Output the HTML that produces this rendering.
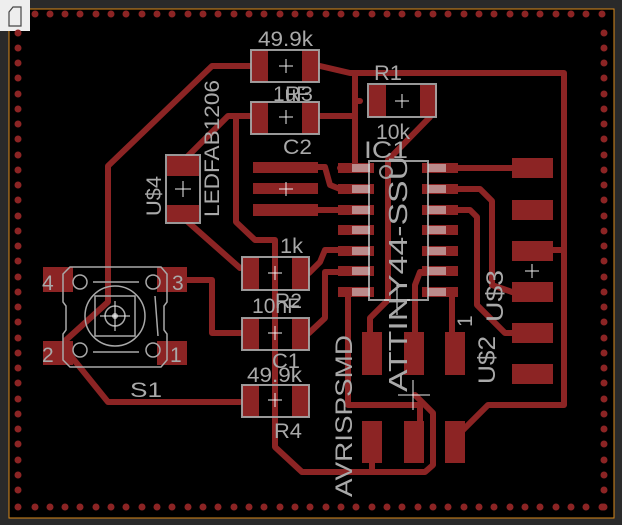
<!DOCTYPE html>
<html><head><meta charset="utf-8"><style>
html,body{margin:0;padding:0;background:#2a2a2a;}
svg{display:block}
text{font-family:"Liberation Sans",sans-serif;fill:#a9a9a9}
</style></head><body>
<svg width="622" height="525" viewBox="0 0 622 525" xmlns="http://www.w3.org/2000/svg">
<rect x="0" y="0" width="622" height="525" fill="#2a2a2a"/>
<rect x="9" y="9" width="605" height="509" fill="#000" stroke="#d98a1c" stroke-width="1"/>
<rect x="0" y="0" width="30" height="31" fill="#eee"/>
<path d="M9 26 V12 L13 7 H21 V26 Z" fill="none" stroke="#444" stroke-width="1.2"/>
<g fill="#8c2424" id="dots">
<g id="toprow">
<circle cx="35" cy="14" r="3.5"/><circle cx="50" cy="14" r="3.5"/><circle cx="65" cy="14" r="3.5"/><circle cx="80" cy="14" r="3.5"/><circle cx="96" cy="14" r="3.5"/><circle cx="111" cy="14" r="3.5"/><circle cx="126" cy="14" r="3.5"/><circle cx="142" cy="14" r="3.5"/><circle cx="157" cy="14" r="3.5"/><circle cx="172" cy="14" r="3.5"/><circle cx="188" cy="14" r="3.5"/><circle cx="203" cy="14" r="3.5"/><circle cx="218" cy="14" r="3.5"/><circle cx="234" cy="14" r="3.5"/><circle cx="249" cy="14" r="3.5"/><circle cx="264" cy="14" r="3.5"/><circle cx="280" cy="14" r="3.5"/><circle cx="295" cy="14" r="3.5"/><circle cx="310" cy="14" r="3.5"/><circle cx="326" cy="14" r="3.5"/><circle cx="341" cy="14" r="3.5"/><circle cx="356" cy="14" r="3.5"/><circle cx="372" cy="14" r="3.5"/><circle cx="387" cy="14" r="3.5"/><circle cx="402" cy="14" r="3.5"/><circle cx="418" cy="14" r="3.5"/><circle cx="433" cy="14" r="3.5"/><circle cx="448" cy="14" r="3.5"/><circle cx="464" cy="14" r="3.5"/><circle cx="479" cy="14" r="3.5"/><circle cx="494" cy="14" r="3.5"/><circle cx="510" cy="14" r="3.5"/><circle cx="525" cy="14" r="3.5"/><circle cx="540" cy="14" r="3.5"/><circle cx="556" cy="14" r="3.5"/><circle cx="571" cy="14" r="3.5"/><circle cx="586" cy="14" r="3.5"/><circle cx="602" cy="14" r="3.5"/>
</g>
<use href="#toprow" y="493"/>
<g id="leftcol">
<circle cx="18" cy="33" r="3.5"/><circle cx="18" cy="48" r="3.5"/><circle cx="18" cy="63" r="3.5"/><circle cx="18" cy="78" r="3.5"/><circle cx="18" cy="94" r="3.5"/><circle cx="18" cy="109" r="3.5"/><circle cx="18" cy="124" r="3.5"/><circle cx="18" cy="139" r="3.5"/><circle cx="18" cy="155" r="3.5"/><circle cx="18" cy="170" r="3.5"/><circle cx="18" cy="185" r="3.5"/><circle cx="18" cy="200" r="3.5"/><circle cx="18" cy="216" r="3.5"/><circle cx="18" cy="231" r="3.5"/><circle cx="18" cy="246" r="3.5"/><circle cx="18" cy="261" r="3.5"/><circle cx="18" cy="277" r="3.5"/><circle cx="18" cy="292" r="3.5"/><circle cx="18" cy="307" r="3.5"/><circle cx="18" cy="322" r="3.5"/><circle cx="18" cy="338" r="3.5"/><circle cx="18" cy="353" r="3.5"/><circle cx="18" cy="368" r="3.5"/><circle cx="18" cy="383" r="3.5"/><circle cx="18" cy="399" r="3.5"/><circle cx="18" cy="414" r="3.5"/><circle cx="18" cy="429" r="3.5"/><circle cx="18" cy="444" r="3.5"/><circle cx="18" cy="460" r="3.5"/><circle cx="18" cy="475" r="3.5"/><circle cx="18" cy="490" r="3.5"/><circle cx="18" cy="507" r="3.5"/>
</g>
<use href="#leftcol" x="586"/>
</g>
<g fill="none" stroke="#8c2424" stroke-width="6" stroke-linejoin="round" stroke-linecap="round">
<path d="M250 66 H212 L108 166 V302 L66 340"/>
<path d="M250 116 H228 L188 156"/>
<path d="M236 116 V222 L255 240 H275 V447 L302 472 H425 L433 465 V413 L415 395"/>
<path d="M188 222 L240 268"/>
<path d="M320 66 L350 73 H564 V405 H488 L463 430"/>
<path d="M355 73 V168 H340"/>
<path d="M320 116 H355"/>
<path d="M360 101 H355"/>
<path d="M430 117 L388 160 V300 L370 318 V340"/>
<path d="M300 167 H325 L330 185 L340 189"/>
<path d="M318 210 H340"/>
<path d="M309 273 L320 262 L325 250 H340"/>
<path d="M309 333 L325 318 V272 H340"/>
<path d="M187 280 H212 V333 H241"/>
<path d="M66 350 L108 402 H240"/>
<path d="M348 292 V405 H420 V421"/>
<path d="M458 168 H512"/>
<path d="M458 189 H480 L492 201 V285 L512 292"/>
<path d="M458 210 H470 L477 217 V305 L505 333 H512"/>
<path d="M445 272 H420 L415 285 V340"/>
<path d="M452 292 V340"/>
<path d="M372 455 V472"/>
<path d="M553 250 H564"/>
</g>
<g fill="#8c2424">
<rect x="251" y="50" width="17" height="32"/><rect x="302" y="50" width="17" height="32"/>
<rect x="251" y="102" width="17" height="32"/><rect x="302" y="102" width="17" height="32"/>
<rect x="369" y="85" width="17" height="32"/><rect x="420" y="85" width="17" height="32"/>
<rect x="242" y="257" width="17" height="33"/><rect x="292" y="257" width="17" height="33"/>
<rect x="242" y="318" width="17" height="32"/><rect x="292" y="318" width="17" height="32"/>
<rect x="242" y="385" width="17" height="32"/><rect x="292" y="385" width="17" height="32"/>
<rect x="167" y="156" width="32" height="20"/><rect x="167" y="205" width="32" height="17"/>
<rect x="253" y="162" width="65" height="11"/><rect x="253" y="183" width="65" height="11"/><rect x="253" y="204" width="65" height="12"/>
<g id="icl"><rect x="338" y="163" width="36" height="10"/><rect x="338" y="184" width="36" height="10"/><rect x="338" y="205" width="36" height="10"/><rect x="338" y="225" width="36" height="10"/><rect x="338" y="246" width="36" height="10"/><rect x="338" y="266" width="36" height="10"/><rect x="338" y="287" width="36" height="10"/></g>
<use href="#icl" x="84"/>
<rect x="512" y="158" width="41" height="20"/><rect x="512" y="200" width="41" height="20"/><rect x="512" y="241" width="41" height="20"/><rect x="512" y="282" width="41" height="20"/><rect x="512" y="323" width="41" height="20"/><rect x="512" y="364" width="41" height="20"/>
<rect x="362" y="332" width="20" height="43"/><rect x="404" y="332" width="20" height="43"/><rect x="445" y="332" width="20" height="43"/>
<rect x="362" y="421" width="20" height="42"/><rect x="404" y="421" width="20" height="42"/><rect x="445" y="421" width="20" height="42"/>
<rect x="43" y="267" width="30" height="25"/><rect x="157" y="267" width="30" height="25"/>
<rect x="43" y="341" width="30" height="24"/><rect x="157" y="341" width="30" height="24"/>
</g>
<g fill="none" stroke="#a9a9a9" stroke-width="2" opacity="0.9">
<rect x="251" y="50" width="68" height="32"/>
<rect x="251" y="102" width="68" height="32"/>
<rect x="368" y="84" width="68" height="33"/>
<rect x="242" y="257" width="67" height="33"/>
<rect x="242" y="318" width="67" height="32"/>
<rect x="242" y="385" width="67" height="32"/>
<rect x="166" y="155" width="34" height="68"/>
<rect x="369" y="161" width="59" height="139"/>
<circle cx="386" cy="172" r="6"/>
</g>
<g fill="#e0e0e0" opacity="0.55">
<g id="icls"><rect x="352" y="164" width="18" height="8"/><rect x="352" y="185" width="18" height="8"/><rect x="352" y="206" width="18" height="8"/><rect x="352" y="226" width="18" height="8"/><rect x="352" y="247" width="18" height="8"/><rect x="352" y="267" width="18" height="8"/><rect x="352" y="288" width="18" height="8"/></g>
<use href="#icls" x="76"/>
</g>
<g fill="none" stroke="#a9a9a9" stroke-width="1.5">
<path d="M70 267 H161 L167 274 V302 L164 306 V330 L167 334 V360 L161 367 H70 L63 360 V334 L66 330 V306 L63 302 V274 Z"/>
<circle cx="115" cy="316" r="30"/>
<rect x="95" y="296" width="40" height="40"/>
<circle cx="115" cy="316" r="10"/>
<circle cx="80" cy="282" r="7"/><circle cx="153" cy="282" r="7"/>
<circle cx="80" cy="350" r="7"/><circle cx="153" cy="350" r="7"/>
<path d="M93 282 H139 M93 352 H139 M155 296 L158 336"/>
</g>
<circle cx="115" cy="316" r="3" fill="#a9a9a9"/>
<g stroke="#eee" stroke-width="1">
<path d="M279 66 h14 M286 59 v14"/><path d="M279 117 h14 M286 110 v14"/><path d="M395 101 h14 M402 94 v14"/>
<path d="M175 189 h16 M183 181 v16"/><path d="M279 189 h14 M286 182 v14"/>
<path d="M268 273 h14 M275 266 v14"/><path d="M268 333 h14 M275 326 v14"/><path d="M268 400 h14 M275 393 v14"/>
<path d="M384 300 h26 M397 285 v30"/><path d="M525 271 h14 M532 264 v14"/>
<path d="M398 395 h32 M413 380 v30"/><path d="M100 316 h30 M115 301 v30"/>
</g>
<g font-size="21">
<text x="258" y="46" textLength="55" lengthAdjust="spacingAndGlyphs">49.9k</text>
<text x="273" y="101" textLength="36" lengthAdjust="spacingAndGlyphs">1uF</text><text x="285" y="101" textLength="28" lengthAdjust="spacingAndGlyphs">R3</text>
<text x="283" y="154" textLength="29" lengthAdjust="spacingAndGlyphs">C2</text>
<text x="374" y="80" textLength="28" lengthAdjust="spacingAndGlyphs">R1</text>
<text x="376" y="139" textLength="34" lengthAdjust="spacingAndGlyphs">10k</text>
<text x="280" y="253" textLength="23" lengthAdjust="spacingAndGlyphs">1k</text>
<text x="252" y="313" textLength="48" lengthAdjust="spacingAndGlyphs">10nF</text><text x="275" y="308" textLength="27" lengthAdjust="spacingAndGlyphs">R2</text>
<text x="272" y="368" textLength="28" lengthAdjust="spacingAndGlyphs">C1</text><text x="247" y="382" textLength="55" lengthAdjust="spacingAndGlyphs">49.9k</text>
<text x="274" y="438" textLength="28" lengthAdjust="spacingAndGlyphs">R4</text>
<text x="130" y="397" textLength="32" lengthAdjust="spacingAndGlyphs">S1</text>
<text x="42" y="290">4</text><text x="172" y="290">3</text>
<text x="42" y="362">2</text><text x="170" y="362">1</text>
<text x="364" y="158" font-size="24" textLength="44" lengthAdjust="spacingAndGlyphs">IC1</text>
<text transform="translate(161,216) rotate(-90)" textLength="40" lengthAdjust="spacingAndGlyphs">U$4</text>
<text transform="translate(219,217) rotate(-90)" textLength="137" lengthAdjust="spacingAndGlyphs">LEDFAB1206</text>
<text transform="translate(407,392) rotate(-90)" font-size="26" textLength="236" lengthAdjust="spacingAndGlyphs">ATTINY44-SSU</text>
<text transform="translate(352,497) rotate(-90)" font-size="24" textLength="162" lengthAdjust="spacingAndGlyphs">AVRISPSMD</text>
<text transform="translate(503,322) rotate(-90)" font-size="24" textLength="52" lengthAdjust="spacingAndGlyphs">U$3</text>
<text transform="translate(495,384) rotate(-90)" font-size="24" textLength="48" lengthAdjust="spacingAndGlyphs">U$2</text>
<text transform="translate(472,327) rotate(-90)">1</text>
</g>
</svg>
</body></html>
